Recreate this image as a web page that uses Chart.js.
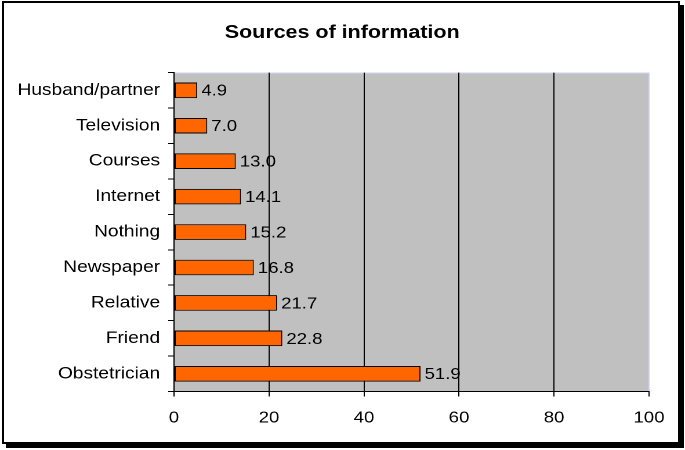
<!DOCTYPE html>
<html lang="en">
<head>
  <meta charset="UTF-8">
  <title>Sources of information</title>
  <script src="https://cdn.jsdelivr.net/npm/chart.js"></script>
  <style>
    html, body {
      margin: 0;
      padding: 0;
      background: #fff;
      width: 685px;
      height: 450px;
      overflow: hidden;
    }
    .frame {
      position: absolute;
      left: 2px;
      top: 1px;
      width: 674px;
      height: 439px;
      border: 2px solid #000;
      box-shadow: 4px 4px 0 #000;
      background: #fff;
    }
    /* the original picture is stretched sideways, so the canvas is too */
    #chart {
      position: absolute;
      left: 0;
      top: 0;
      transform: scaleX(1.16);
      transform-origin: 0 0;
    }
  </style>
</head>
<body>
  <div class="frame"></div>
  <canvas id="chart" width="590" height="450"></canvas>

  <script>
    const categories = ['Husband/partner', 'Television', 'Courses', 'Internet', 'Nothing', 'Newspaper', 'Relative', 'Friend', 'Obstetrician'];
    const percents = [4.9, 7.0, 13.0, 14.1, 15.2, 16.8, 21.7, 22.8, 51.9];
    const xTicks = [0, 20, 40, 60, 80, 100];
    const chartTitle = 'Sources of information';

    const font = '"Liberation Sans", Arial, sans-serif';

    const plotBackground = {
      id: 'plotBackground',
      beforeDraw(chart) {
        const { ctx, chartArea: a } = chart;
        ctx.save();
        ctx.fillStyle = '#c0c0c0';
        ctx.fillRect(a.left, a.top, a.right - a.left, a.bottom - a.top);
        ctx.strokeStyle = '#d0d0f4';
        ctx.lineWidth = 1;
        ctx.beginPath();
        ctx.moveTo(a.left, a.top + 0.5);
        ctx.lineTo(a.right, a.top + 0.5);
        ctx.lineTo(a.right, a.bottom);
        ctx.stroke();
        // title, centred on the whole picture rather than the padded box
        ctx.font = 'bold 18.5px ' + font;
        ctx.fillStyle = '#000';
        ctx.textAlign = 'center';
        ctx.textBaseline = 'middle';
        ctx.fillText(chartTitle, 295, 33);
        ctx.restore();
      }
    };

    const valueLabels = {
      id: 'valueLabels',
      afterDatasetsDraw(chart) {
        const { ctx } = chart;
        ctx.save();
        ctx.font = '16px ' + font;
        ctx.fillStyle = '#000';
        ctx.textAlign = 'left';
        ctx.textBaseline = 'middle';
        chart.getDatasetMeta(0).data.forEach((bar, i) => {
          ctx.fillText(percents[i].toFixed(1), bar.x + 3.5, bar.y + 1);
        });
        ctx.restore();
      }
    };

    new Chart(document.getElementById('chart'), {
      type: 'bar',
      data: {
        labels: categories,
        datasets: [{
          data: percents,
          backgroundColor: '#ff6600',
          borderColor: '#000',
          borderWidth: 1,
          borderSkipped: false,
          barPercentage: 0.44,
          categoryPercentage: 1
        }]
      },
      options: {
        indexAxis: 'y',
        responsive: false,
        devicePixelRatio: 2,
        animation: false,
        layout: { padding: { left: 0, right: 30.5, top: 72.6, bottom: 0 } },
        plugins: {
          legend: { display: false },
          tooltip: { enabled: false },
          title: { display: false }
        },
        scales: {
          x: {
            min: 0,
            max: 100,
            afterBuildTicks: scale => { scale.ticks = xTicks.map(v => ({ value: v })); },
            afterFit: scale => { scale.height = 58.5; },
            border: { color: '#000', width: 1 },
            grid: {
              color: c => (c.tick.value === 0 ? 'rgba(0,0,0,0)' : c.tick.value === 100 ? '#d0d0f4' : '#000'),
              tickColor: '#000',
              tickLength: 5
            },
            ticks: {
              color: '#000',
              padding: 12,
              maxRotation: 0,
              font: { family: font, size: 16 }
            }
          },
          y: {
            afterFit: scale => { scale.width = 150; },
            border: { color: '#000', width: 1 },
            grid: {
              drawOnChartArea: false,
              tickColor: '#000',
              tickLength: 5
            },
            ticks: {
              color: '#000',
              padding: 7,
              font: { family: font, size: 16.5 }
            }
          }
        }
      },
      plugins: [plotBackground, valueLabels]
    });
  </script>
</body>
</html>
